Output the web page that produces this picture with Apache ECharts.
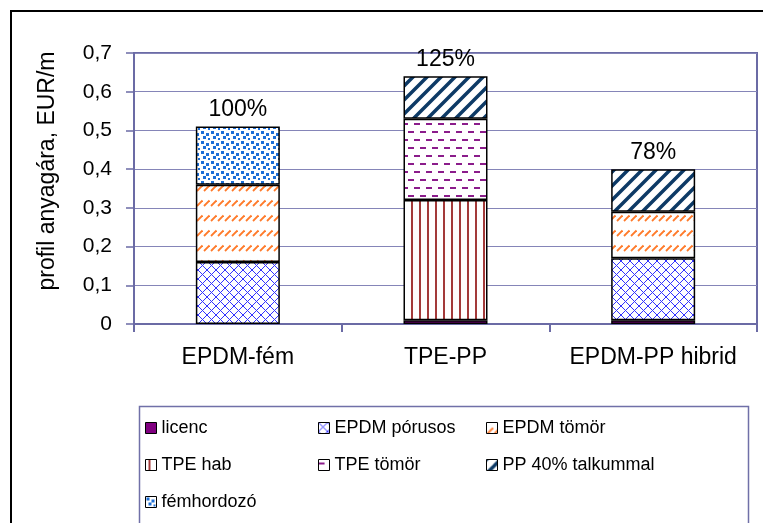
<!DOCTYPE html>
<html>
<head>
<meta charset="utf-8">
<script src="https://cdn.jsdelivr.net/npm/echarts@6/dist/echarts.min.js"></script>
<style>html,body{margin:0;padding:0;background:#fff;}#c{width:763px;height:523px;}</style>
</head>
<body>
<div id="c"></div>
<script>
// ---- data ----
const categories = ['EPDM-fém', 'TPE-PP', 'EPDM-PP hibrid'];
const licenc      = [null, 0.01, 0.01];
const epdmPorusos = [0.16, null, 0.16];
const epdmTomor   = [0.20, null, 0.12];
const tpeHab      = [null, 0.31, null];
const tpeTomor    = [null, 0.21, null];
const pp40        = [null, 0.11, 0.11];
const femhordozo  = [0.15, null, null];
const pctLabels   = ['100%', '125%', '78%'];
const yTicks      = [0, 0.1, 0.2, 0.3, 0.4, 0.5, 0.6, 0.7];

// ---- patterns ----
function mk(w, h, draw) {
  const c = document.createElement('canvas');
  c.width = w; c.height = h;
  const g = c.getContext('2d');
  g.fillStyle = '#fff'; g.fillRect(0, 0, w, h);
  draw(g, w, h);
  return { image: c, repeat: 'repeat' };
}
const patCross = mk(9, 9, (g, w, h) => {
  g.strokeStyle = '#3333ff'; g.lineWidth = 1;
  g.beginPath();
  g.moveTo(-1, -1); g.lineTo(w + 1, h + 1);
  g.moveTo(-1, h + 1); g.lineTo(w + 1, -1);
  g.stroke();
});
const patOrange = mk(7, 15, (g) => {
  g.strokeStyle = '#ff7a2a'; g.lineWidth = 1.8;
  g.beginPath();
  g.moveTo(1, 11); g.lineTo(6.5, 5.5);
  g.stroke();
});
const patVert = mk(8, 8, (g) => {
  g.fillStyle = '#a33a3a'; g.fillRect(3, 0, 2, 8);
});
const patDash = mk(12, 16, (g) => {
  g.fillStyle = '#8b1c8b';
  g.fillRect(0, 3, 6, 2);
  g.fillRect(6, 11, 6, 2);
});
const patDiag = mk(14, 14, (g, w, h) => {
  g.strokeStyle = '#0d3a66'; g.lineWidth = 3.5;
  g.beginPath();
  g.moveTo(0, h); g.lineTo(w, 0);
  g.moveTo(-w, h); g.lineTo(w, -h);
  g.moveTo(0, 2 * h); g.lineTo(2 * w, 0);
  g.stroke();
});
const patDots = mk(10, 10, (g) => {
  g.fillStyle = '#1e6fd6';
  g.fillRect(1, 1, 3, 3); g.fillRect(6, 3, 3, 3);
  g.fillRect(3, 6, 3, 3); g.fillRect(8, 8, 2, 2);
});

const FONT = "'Liberation Sans', Arial, sans-serif";
const border = { borderColor: '#000', borderWidth: 1.5 };

function barSeries(name, data, color, withLabel) {
  const s = {
    name, type: 'bar', stack: 'total', data,
    barWidth: 84,
    itemStyle: Object.assign({ color }, border),
    emphasis: { disabled: true }
  };
  if (withLabel) {
    s.label = {
      show: true, position: 'top', distance: 5,
      formatter: p => pctLabels[p.dataIndex],
      fontFamily: FONT, fontSize: 23, color: '#000'
    };
  }
  return s;
}

const legendCommon = {
  orient: 'vertical', icon: 'rect', itemWidth: 11, itemHeight: 11,
  itemGap: 19,
  textStyle: { fontFamily: FONT, fontSize: 18, color: '#000', lineHeight: 18 },
  itemStyle: { borderColor: '#000', borderWidth: 1 },
  top: 414, selectedMode: false
};

const chart = echarts.init(document.getElementById('c'), null, { renderer: 'canvas' });
chart.setOption({
  animation: false,
  backgroundColor: '#fff',
  grid: { left: 134, top: 53, width: 623, height: 271, show: true, borderColor: '#6b6ba5', borderWidth: 2, backgroundColor: 'transparent' },
  xAxis: {
    type: 'category', data: categories,
    axisLine: { lineStyle: { color: '#6b6ba5', width: 2 } },
    axisTick: { show: true, length: 8, lineStyle: { color: '#6b6ba5', width: 2 } },
    axisLabel: { interval: 0, hideOverlap: false, margin: 22, fontFamily: FONT, fontSize: 23, color: '#000' }
  },
  yAxis: {
    type: 'value', min: 0, max: 0.7, interval: 0.1,
    axisLine: { show: true, lineStyle: { color: '#6b6ba5', width: 2 } },
    axisTick: { show: true, length: 8, lineStyle: { color: '#6b6ba5', width: 1.5 } },
    splitLine: { lineStyle: { color: '#8585b8', width: 1 } },
    axisLabel: {
      margin: 22, fontFamily: FONT, fontSize: 21, color: '#000',
      formatter: v => {
        const t = yTicks.find(x => Math.abs(x - v) < 1e-9);
        return t === 0 ? '0' : (t !== undefined ? t : v).toFixed(1).replace('.', ',');
      }
    }
  },
  legend: [
    Object.assign({}, legendCommon, { left: 140, data: ['licenc', 'TPE hab', 'fémhordozó'] }),
    Object.assign({}, legendCommon, { left: 313, data: ['EPDM pórusos', 'TPE tömör'] }),
    Object.assign({}, legendCommon, { left: 481, data: ['EPDM tömör', 'PP 40% talkummal'] })
  ],
  graphic: [
    { type: 'rect', shape: { x: 11, y: 11, width: 900, height: 700 }, style: { fill: 'none', stroke: '#000', lineWidth: 2 }, silent: true },
    { type: 'rect', shape: { x: 139.5, y: 406.5, width: 609, height: 200 }, style: { fill: 'none', stroke: '#7070a8', lineWidth: 1.5 }, silent: true },
    { type: 'text', x: 48, y: 171, rotation: Math.PI / 2,
      style: { text: 'profil anyagára, EUR/m', fontFamily: FONT, fontSize: 23, fill: '#000', textAlign: 'center', textVerticalAlign: 'middle' }, silent: true }
  ],
  series: [
    barSeries('licenc', licenc, '#800080'),
    barSeries('EPDM pórusos', epdmPorusos, patCross),
    barSeries('EPDM tömör', epdmTomor, patOrange),
    barSeries('TPE hab', tpeHab, patVert),
    barSeries('TPE tömör', tpeTomor, patDash),
    barSeries('PP 40% talkummal', pp40, patDiag, true),
    barSeries('fémhordozó', femhordozo, patDots, true)
  ]
});
</script>
</body>
</html>
